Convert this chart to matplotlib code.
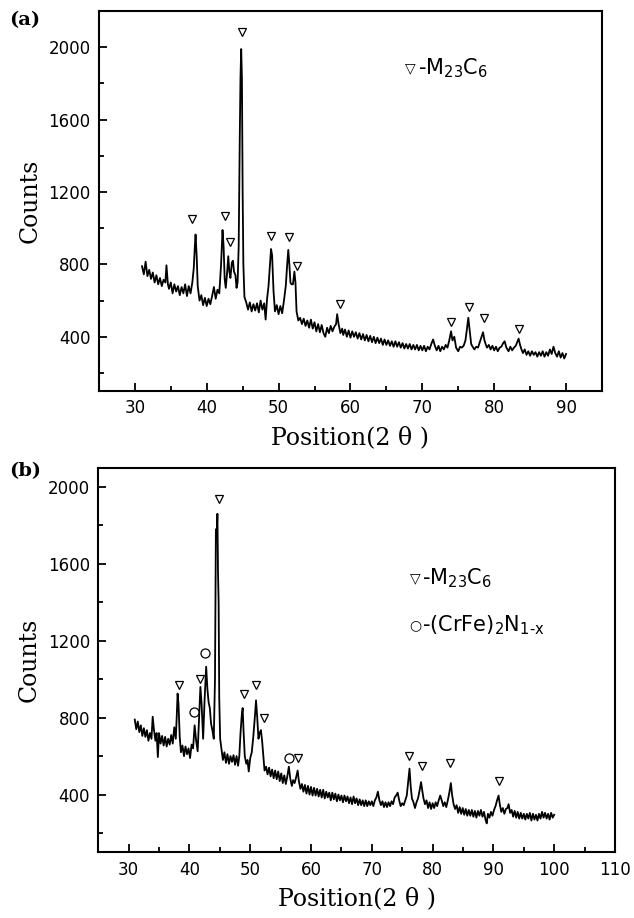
import matplotlib
matplotlib.use("Agg")
import matplotlib.pyplot as plt
from matplotlib.ticker import MultipleLocator
import numpy as np

plt.rcParams['mathtext.fontset'] = 'dejavusans'

# ---- panel (a): XRD trace ----
two_theta_a = [
    31.0, 31.25, 31.5, 31.75, 32.0, 32.25, 32.5, 32.75, 33.0, 33.25, 33.5, 33.75, 34.0,
    34.25, 34.4, 34.6, 34.75, 35.0, 35.25, 35.5, 35.75, 36.0, 36.25, 36.5, 36.75, 37.0,
    37.25, 37.5, 37.75, 38.0, 38.2, 38.35, 38.45, 38.6, 38.75, 39.0, 39.25, 39.5, 39.75,
    40.0, 40.25, 40.5, 40.75, 41.0, 41.25, 41.5, 41.75, 42.0, 42.2, 42.35, 42.5, 42.65,
    42.85, 43.0, 43.15, 43.3, 43.5, 43.65, 43.8, 44.0, 44.15, 44.3, 44.45, 44.6, 44.7,
    44.8, 44.9, 45.0, 45.1, 45.25, 45.5, 45.75, 46.0, 46.25, 46.5, 46.75, 47.0, 47.25,
    47.5, 47.75, 48.0, 48.2, 48.4, 48.6, 48.8, 48.95, 49.1, 49.3, 49.5, 49.75, 50.0,
    50.25, 50.5, 50.75, 51.0, 51.2, 51.35, 51.5, 51.65, 51.8, 52.0, 52.2, 52.35, 52.5,
    52.75, 53.0, 53.25, 53.5, 53.75, 54.0, 54.25, 54.5, 54.75, 55.0, 55.25, 55.5, 55.75,
    56.0, 56.25, 56.5, 56.75, 57.0, 57.25, 57.5, 57.75, 58.0, 58.15, 58.35, 58.6, 58.85,
    59.0, 59.25, 59.5, 59.75, 60.0, 60.25, 60.5, 60.75, 61.0, 61.25, 61.5, 61.75, 62.0,
    62.25, 62.5, 62.75, 63.0, 63.25, 63.5, 63.75, 64.0, 64.25, 64.5, 64.75, 65.0, 65.25,
    65.5, 65.75, 66.0, 66.25, 66.5, 66.75, 67.0, 67.25, 67.5, 67.75, 68.0, 68.25, 68.5,
    68.75, 69.0, 69.25, 69.5, 69.75, 70.0, 70.25, 70.5, 70.75, 71.0, 71.25, 71.5, 71.75,
    72.0, 72.25, 72.5, 72.75, 73.0, 73.25, 73.5, 73.75, 74.0, 74.2, 74.45, 74.7, 75.0,
    75.25, 75.5, 75.75, 76.0, 76.2, 76.4, 76.6, 76.8, 77.0, 77.25, 77.5, 77.75, 78.0,
    78.25, 78.45, 78.65, 78.85, 79.0, 79.25, 79.5, 79.75, 80.0, 80.25, 80.5, 80.75, 81.0,
    81.25, 81.45, 81.7, 82.0, 82.25, 82.5, 82.75, 83.0, 83.25, 83.4, 83.6, 83.8, 84.0,
    84.25, 84.5, 84.75, 85.0, 85.25, 85.5, 85.75, 86.0, 86.25, 86.5, 86.75, 87.0, 87.25,
    87.5, 87.75, 88.0, 88.25, 88.5, 88.75, 89.0, 89.25, 89.5, 89.75, 90.0,
]
counts_a = [
    790, 745, 815, 735, 770, 720, 755, 700, 740, 690, 725, 680, 715,
    700, 795, 690, 665, 700, 640, 690, 650, 680, 630, 675, 640, 690,
    625, 680, 640, 700, 780, 900, 965, 850, 680, 600, 630, 575, 615,
    570, 610, 580, 625, 675, 610, 660, 640, 800, 990, 900, 720, 670,
    760, 845, 760, 725, 810, 820, 760, 740, 670, 700, 900, 1500, 1830,
    1990, 1830, 1200, 800, 620, 590, 550, 590, 540, 580, 545, 585, 535,
    600, 550, 585, 495, 610, 680, 800, 885, 850, 650, 540, 575, 525,
    570, 530, 600, 680, 800, 880, 800, 700, 690, 690, 760, 700, 540,
    490, 505, 470, 500, 460, 490, 450, 495, 445, 480, 430, 470, 425,
    465, 420, 400, 450, 420, 460, 430, 455, 470, 525, 470, 420, 445,
    410, 440, 400, 435, 395, 430, 400, 425, 390, 420, 385, 415, 380,
    410, 375, 405, 370, 400, 365, 395, 365, 390, 355, 385, 355, 380,
    350, 375, 345, 375, 345, 370, 340, 365, 335, 360, 335, 360, 330,
    355, 330, 355, 325, 350, 325, 350, 320, 345, 330, 360, 385, 350,
    325, 350, 320, 345, 330, 355, 340, 380, 430, 380, 400, 340, 320,
    345, 340, 350, 380, 440, 505, 430, 360, 345, 330, 345, 340, 370,
    400, 425, 380, 355, 340, 355, 330, 350, 325, 345, 320, 340, 345,
    365, 375, 340, 320, 345, 325, 340, 350, 375, 390, 355, 330, 310,
    330, 300, 320, 295, 320, 300, 315, 290, 315, 295, 320, 290, 315,
    295, 330, 305, 345, 310, 290, 320, 285, 310, 280, 305,
]
tri_a_x = [38.0, 42.6, 43.3, 44.9, 48.9, 51.4, 52.5, 58.5, 74.0, 76.45, 78.6, 83.4]
tri_a_y = [1050, 1069, 926, 2084, 958, 950, 790, 583, 483, 566, 502, 441]

# ---- panel (b) ----
two_theta_b = [
    31.0, 31.25, 31.5, 31.75, 32.0, 32.25, 32.5, 32.75, 33.0, 33.25, 33.5, 33.75, 33.95,
    34.15, 34.4, 34.6, 34.8, 35.0, 35.25, 35.5, 35.75, 36.0, 36.25, 36.5, 36.75, 37.0,
    37.25, 37.5, 37.75, 37.9, 38.05, 38.2, 38.4, 38.6, 38.85, 39.1, 39.35, 39.6, 39.85,
    40.1, 40.35, 40.6, 40.85, 41.1, 41.35, 41.55, 41.8, 42.0, 42.25, 42.5, 42.75, 42.95,
    43.15, 43.35, 43.55, 43.8, 44.0, 44.2, 44.35, 44.5, 44.6, 44.7, 44.8, 44.9, 45.05,
    45.25, 45.5, 45.75, 46.0, 46.25, 46.5, 46.75, 47.0, 47.25, 47.5, 47.75, 48.0, 48.2,
    48.4, 48.6, 48.75, 48.9, 49.1, 49.35, 49.55, 49.75, 50.0, 50.25, 50.5, 50.75, 50.95,
    51.15, 51.35, 51.55, 51.75, 51.95, 52.15, 52.35, 52.6, 52.85, 53.1, 53.35, 53.6, 53.85,
    54.1, 54.35, 54.6, 54.85, 55.1, 55.35, 55.6, 55.85, 56.1, 56.35, 56.6, 56.85, 57.05,
    57.3, 57.55, 57.8, 58.0, 58.25, 58.5, 58.75, 59.0, 59.25, 59.5, 59.75, 60.0, 60.25,
    60.5, 60.75, 61.0, 61.25, 61.5, 61.75, 62.0, 62.25, 62.5, 62.75, 63.0, 63.25, 63.5,
    63.75, 64.0, 64.25, 64.5, 64.75, 65.0, 65.25, 65.5, 65.75, 66.0, 66.25, 66.5, 66.75,
    67.0, 67.25, 67.5, 67.75, 68.0, 68.25, 68.5, 68.75, 69.0, 69.25, 69.5, 69.75, 70.0,
    70.25, 70.5, 70.75, 71.0, 71.25, 71.5, 71.75, 72.0, 72.25, 72.5, 72.75, 73.0, 73.25,
    73.5, 73.75, 74.0, 74.25, 74.5, 74.75, 75.0, 75.25, 75.5, 75.75, 76.0, 76.2, 76.4,
    76.6, 76.85, 77.1, 77.35, 77.6, 77.85, 78.1, 78.3, 78.5, 78.75, 79.0, 79.25, 79.5,
    79.75, 80.0, 80.25, 80.5, 80.75, 81.0, 81.25, 81.5, 81.75, 82.0, 82.25, 82.5, 82.75,
    83.0, 83.2, 83.45, 83.7, 83.95, 84.2, 84.45, 84.7, 84.95, 85.2, 85.45, 85.7, 85.95,
    86.2, 86.45, 86.7, 86.95, 87.2, 87.45, 87.7, 87.95, 88.2, 88.45, 88.7, 88.9, 89.1,
    89.35, 89.6, 89.85, 90.1, 90.35, 90.6, 90.85, 91.05, 91.3, 91.55, 91.8, 92.05, 92.3,
    92.5, 92.75, 93.0, 93.25, 93.5, 93.75, 94.0, 94.25, 94.5, 94.75, 95.0, 95.25, 95.5,
    95.75, 96.0, 96.25, 96.5, 96.75, 97.0, 97.25, 97.5, 97.75, 98.0, 98.25, 98.5, 98.75,
    99.0, 99.25, 99.5, 99.75, 100.0,
]
counts_b = [
    790, 740, 780, 725, 760, 705, 745, 700, 735, 680, 720, 690, 805,
    740, 680, 720, 595, 720, 665, 705, 655, 700, 650, 690, 660, 710,
    665, 750, 690, 800, 925, 870, 700, 620, 655, 600, 650, 610, 640,
    590, 660, 640, 760, 680, 625, 780, 960, 870, 690, 900, 1065, 950,
    880, 850, 770, 730, 690, 1000, 1780, 1760, 1860, 1550, 1400, 900, 690,
    640, 580, 620, 565, 610, 560, 600, 570, 605, 555, 600, 550, 600,
    720, 810, 850, 730, 600, 560, 580, 520, 590, 620, 700, 800, 890,
    800, 690, 720, 735, 680, 600, 525, 545, 505, 540, 495, 530, 485,
    525, 480, 520, 470, 510, 460, 500, 455, 495, 545, 480, 445, 475,
    460, 490, 525, 470, 430, 455, 415, 450, 405, 445, 400, 440, 395,
    435, 395, 430, 390, 425, 385, 425, 380, 415, 385, 410, 370, 410,
    375, 405, 365, 400, 370, 395, 360, 395, 365, 390, 355, 385, 350,
    390, 355, 380, 345, 375, 345, 370, 340, 370, 340, 365, 345, 365,
    340, 370, 385, 415, 370, 345, 365, 335, 360, 335, 360, 340, 365,
    350, 385, 395, 410, 370, 340, 355, 345, 370, 395, 470, 535, 440,
    380, 360, 330, 360, 380, 420, 465, 420, 380, 350, 370, 330, 360,
    325, 355, 330, 360, 340, 370, 395, 370, 340, 360, 335, 370, 410,
    460, 400, 350, 325, 345, 305, 335, 300, 330, 295, 325, 290, 320,
    290, 320, 285, 315, 280, 315, 290, 320, 285, 310, 270, 250, 300,
    280, 310, 290, 320, 340, 370, 395, 350, 310, 330, 300, 325, 330,
    350, 305, 320, 285, 315, 280, 310, 275, 305, 275, 300, 270, 300,
    275, 305, 265, 300, 270, 295, 265, 300, 275, 310, 280, 305, 275,
    300, 270, 305, 280, 295,
]
tri_b_x = [38.2, 41.8, 44.78, 49.0, 51.0, 52.2, 57.9, 76.1, 78.3, 82.8, 90.85]
tri_b_y = [968, 1003, 1937, 921, 972, 800, 589, 600, 548, 563, 473]
circ_b_x = [40.67, 42.6, 56.4]
circ_b_y = [829, 1134, 589]

serif = 'DejaVu Serif'
sans = 'DejaVu Sans'

fig = plt.figure(figsize=(6.34, 9.18), dpi=100)
ax_a = fig.add_axes([0.156, 0.574, 0.7935, 0.414])
ax_b = fig.add_axes([0.155, 0.0716, 0.815, 0.419])


def style_axis(ax, xlim, ylim):
    ax.set_xlim(*xlim)
    ax.set_ylim(*ylim)
    ax.xaxis.set_major_locator(MultipleLocator(10))
    ax.xaxis.set_minor_locator(MultipleLocator(5))
    ax.yaxis.set_major_locator(MultipleLocator(400))
    ax.yaxis.set_minor_locator(MultipleLocator(200))
    ax.tick_params(which='both', direction='in', top=False, right=False, width=1.3)
    ax.tick_params(which='major', length=6, labelsize=12, pad=6)
    ax.tick_params(which='minor', length=3.5)
    for lab in ax.get_xticklabels() + ax.get_yticklabels():
        lab.set_family(sans)
    for sp in ax.spines.values():
        sp.set_linewidth(1.5)
    ax.set_ylabel('Counts', fontfamily=serif, fontsize=17, labelpad=5)
    ax.set_xlabel('Position(2 θ )', fontfamily=serif, fontsize=17, labelpad=6)


def phase_label(ax, x, y, symbol, text):
    # small symbol followed by the phase name
    ax.text(x, y, symbol, fontsize=10, family=sans, va='center')
    ax.annotate(text, xy=(x, y), xytext=(9, 0), textcoords='offset points',
                fontsize=15, family=sans, va='center')


# panel (a)
ax_a.plot(two_theta_a, counts_a, color='black', lw=1.3)
ax_a.plot(tri_a_x, tri_a_y, ls='none', marker='v', ms=5.5, mfc='white', mec='black', mew=0.9)
style_axis(ax_a, (25, 95), (100, 2200))
ax_a.set_xticks([30, 40, 50, 60, 70, 80, 90])
phase_label(ax_a, 67.6, 1883, '▽', '-M$_{23}$C$_6$')

# panel (b)
ax_b.plot(two_theta_b, counts_b, color='black', lw=1.3)
ax_b.plot(tri_b_x, tri_b_y, ls='none', marker='v', ms=5.5, mfc='white', mec='black', mew=0.9)
ax_b.plot(circ_b_x, circ_b_y, ls='none', marker='o', ms=6.5, mfc='white', mec='black', mew=0.9)
style_axis(ax_b, (25, 110), (100, 2100))
phase_label(ax_b, 76.2, 1526, '▽', '-M$_{23}$C$_6$')
phase_label(ax_b, 76.2, 1281, '○', '-(CrFe)$_2$N$_{\\mathregular{1\\text{-}x}}$')

fig.text(0.015, 0.988, '(a)', fontfamily=serif, fontweight='bold', fontsize=14, va='top')
fig.text(0.015, 0.497, '(b)', fontfamily=serif, fontweight='bold', fontsize=14, va='top')

fig.savefig('out.png', dpi=100)
